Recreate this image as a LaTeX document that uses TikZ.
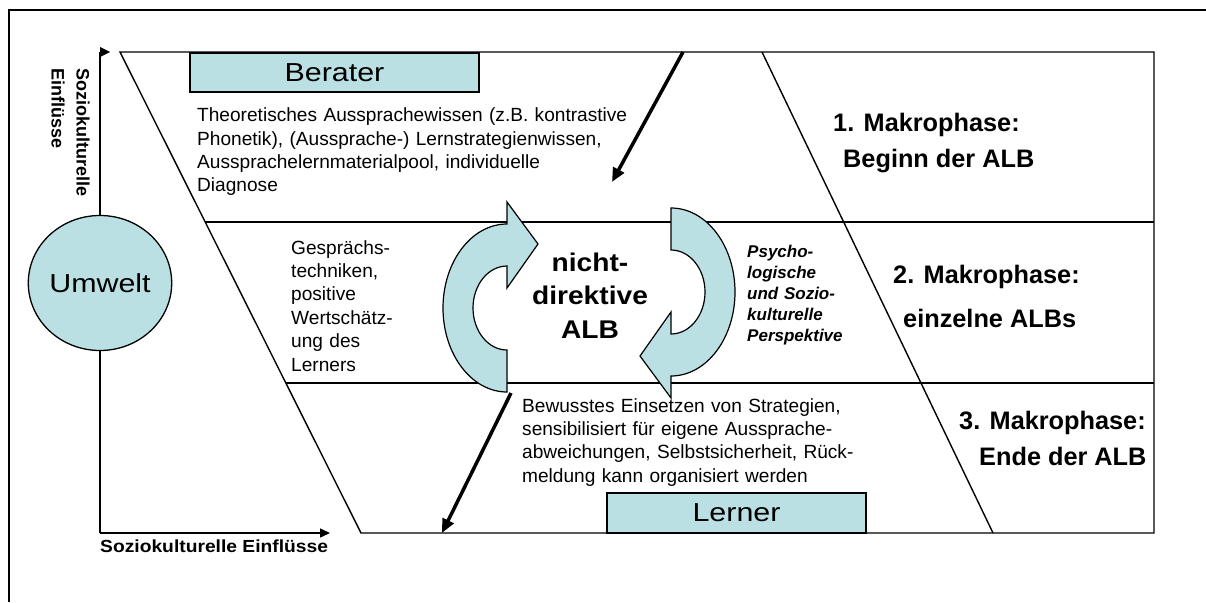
\documentclass[tikz,border=0pt]{standalone}
\usepackage{fontspec}
\setmainfont{Liberation Sans}
\newfontfamily\widesans[FakeStretch=1.17]{Liberation Sans}
\newfontfamily\widebold[FakeStretch=1.1]{Liberation Sans}
\usetikzlibrary{arrows.meta,shapes.geometric}
\definecolor{paleblue}{HTML}{BBE0E3}

\tikzset{
  frame/.style={line width=2pt},
  line/.style={line width=1.4pt},
  axisline/.style={line width=1.4pt},
  axisarrow/.style={line width=1.4pt, -{Triangle[length=10pt,width=9pt]}},
  pointer/.style={line width=3.5pt, -{Triangle[length=14pt,width=12pt]}},
  fillbox/.style={draw, line width=1.4pt, fill=paleblue, inner sep=0pt},
  cyclearrow/.style={draw, line width=1.2pt, fill=paleblue},
  body/.style={font=\fontsize{19.1}{23.4}\selectfont, inner sep=0pt, align=left, anchor=base west},
  phase/.style={font=\bfseries\fontsize{25.3}{28}\selectfont, inner sep=0pt, anchor=base west},
  boxlabel/.style={font=\widesans\fontsize{26}{30}\selectfont},
}

% one curved block arrow, tail at the bottom, head at the top pointing right
\newcommand\cyclepath{%
  (507,392) arc[start angle=90, end angle=270, x radius=64, y radius=84]
  -- (507,202) -- (538,244) -- (507,288) -- (507,266)
  arc[start angle=270, end angle=90, x radius=34, y radius=42]
  -- cycle}

\begin{document}
\begin{tikzpicture}[x=1pt,y=-1pt]
\useasboundingbox (0,0) rectangle (1206,602);

% outer frame
\draw[frame] (1206,10) -- (9,10) -- (9,602);

% phase field
\draw[line] (120,52) -- (1154,52) -- (1154,533) -- (361,533) -- cycle;
\draw[line] (762,52) -- (993,533);
\draw[line] (205.2,222) -- (1154,222);
\draw[line] (285.8,383) -- (1154,383);

% axes
\coordinate (origin) at (100,533);
\coordinate (xend) at (330,533);
\coordinate (yend) at (100,52);
\draw[axisline] (origin) -- (yend);
\fill (100,47) -- (110,52) -- (100,57) -- cycle;
\draw[axisarrow] (origin) -- (xend);

\node[rotate=-90, anchor=base west, inner sep=0pt, text width=160pt, align=left,
      font=\bfseries\fontsize{18}{25}\selectfont] (ylabel) at (76.5,68)
  {Soziokulturelle\\Einflüsse};
\node[anchor=base west, inner sep=0pt, font=\widebold\bfseries\fontsize{17.5}{20}\selectfont]
  (xlabel) at (100,552) {Soziokulturelle Einflüsse};

% environment
\node[ellipse, draw, line width=1.3pt, fill=paleblue, minimum width=141pt,
      minimum height=135pt, inner sep=0pt, boxlabel] (umwelt) at (100,283) {Umwelt};

% advisor and learner boxes
\node[fillbox, boxlabel, minimum width=289pt, minimum height=39pt] (berater) at (334.5,72.5) {Berater};
\node[fillbox, boxlabel, minimum width=259pt, minimum height=40pt] (lerner) at (736.5,513) {Lerner};

% knowledge texts
\node[body, text width=460pt] (beraterwissen) at (197,121.7)
  {Theoretisches Aussprachewissen (z.B. kontrastive\\
   Phonetik), (Aussprache-) Lernstrategienwissen,\\
   Aussprachelernmaterialpool, individuelle\\
   Diagnose};
\node[body, text width=120pt] (technik) at (291,254)
  {Gesprächs-\\techniken,\\positive\\Wertschätz-\\ung des\\Lerners};
\node[body, text width=380pt] (lernerwissen) at (522,412)
  {Bewusstes Einsetzen von Strategien,\\
   sensibilisiert für eigene Aussprache-\\
   abweichungen, Selbstsicherheit, Rück-\\
   meldung kann organisiert werden};

% cycle in the middle
\path[cyclearrow] \cyclepath;
\path[cyclearrow, rotate around={180:(589,300)}] \cyclepath;
\node[font=\widebold\bfseries\fontsize{25.6}{33.5}\selectfont, text width=160pt, align=center,
      anchor=base, inner sep=0pt] (alb) at (590,271) {nicht-\\direktive\\ALB};
\node[font=\bfseries\itshape\fontsize{17}{21}\selectfont, text width=120pt, align=left,
      anchor=base west, inner sep=0pt] (perspektive) at (747,257)
  {Psycho-\\logische\\und Sozio-\\kulturelle\\Perspektive};

% pointers
\coordinate (p1s) at (683,52);
\coordinate (p1e) at (612,182);
\draw[pointer] (p1s) -- (p1e);
\coordinate (p2s) at (511,393);
\coordinate (p2e) at (442,533);
\draw[pointer] (p2s) -- (p2e);

% macro phases
\node[phase] (m1a) at (833,131) {1. Makrophase:};
\node[phase] (m1b) at (843,167) {Beginn der ALB};
\node[phase] (m2a) at (893,283) {2. Makrophase:};
\node[phase] (m2b) at (903,327) {einzelne ALBs};
\node[phase] (m3a) at (959,429) {3. Makrophase:};
\node[phase] (m3b) at (979,465) {Ende der ALB};
\end{tikzpicture}
\end{document}
